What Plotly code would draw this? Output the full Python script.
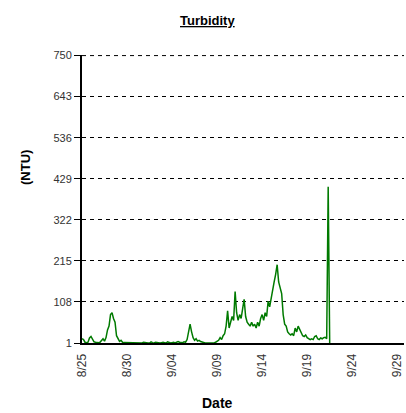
import pandas as pd
import plotly.graph_objects as go

# 4-hourly readings starting 8/25 00:00
start_time = "2009-08-25 00:00"
step = "4h"

turbidity = [
    # 8/25
    12, 10, 3, 2, 3, 14,
    # 8/26
    18, 10, 4, 3, 2, 2,
    # 8/27
    3, 8, 12, 6, 15, 35,
    # 8/28
    45, 75, 80, 65, 55, 20,
    # 8/29
    10, 5, 8, 3, 2, 2,
    # 8/30
    2, 1, 1, 2, 1, 1,
    # 8/31
    1, 1, 2, 1, 1, 3,
    # 9/01
    2, 1, 1, 1, 4, 2,
    # 9/02
    1, 3, 2, 1, 1, 2,
    # 9/03
    3, 2, 1, 4, 2, 1,
    # 9/04
    2, 3, 1, 2, 5, 3,
    # 9/05
    3, 2, 4, 3, 10, 30,
    # 9/06
    50, 30, 15, 8, 12, 6,
    # 9/07
    8, 5, 3, 1, 1, 1,
    # 9/08
    1, 1, 1, 2, 1, 3,
    # 9/09
    5, 8, 15, 10, 20, 25,
    # 9/10
    45, 85, 40, 55, 70, 60,
    # 9/11
    135, 80, 60, 75, 65, 90,
    # 9/12
    115, 70, 55, 50, 45, 55,
    # 9/13
    45, 50, 40, 55, 45, 65,
    # 9/14
    75, 60, 80, 70, 110, 95,
    # 9/15
    120, 140, 160, 180, 205, 160,
    # 9/16
    145, 130, 75, 50, 45, 30,
    # 9/17
    25, 22, 25, 20, 40, 30,
    # 9/18
    45, 35, 30, 20, 18, 22,
    # 9/19
    15, 12, 10, 12, 10, 18,
    # 9/20
    20, 12, 10, 14, 12, 15,
    # 9/21
    16, 12, 408, 1,
]
times = pd.date_range(start_time, periods=len(turbidity), freq=step)

y_ticks = [1, 108, 215, 322, 429, 536, 643, 750]
x_tick_dates = ["2009-08-25", "2009-08-30", "2009-09-04", "2009-09-09",
                "2009-09-14", "2009-09-19", "2009-09-24", "2009-09-29"]
x_tick_labels = ["8/25", "8/30", "9/04", "9/09", "9/14", "9/19", "9/24", "9/29"]

W, H = 406, 413
pl, pr, pt, pb = 82, 2, 55, 70
pw, ph = W - pl - pr, H - pt - pb
def px(x):
    return (x - pl) / pw
def py(y):
    return (H - pb - y) / ph

fig = go.Figure()
fig.add_trace(go.Scatter(x=times, y=turbidity, mode="lines",
                         line=dict(color="#007a00", width=1.5),
                         showlegend=False, cliponaxis=False))

fig.update_layout(
    width=W, height=H,
    margin=dict(l=pl, r=pr, t=pt, b=pb, autoexpand=False),
    paper_bgcolor="white", plot_bgcolor="white",
    font=dict(family="Liberation Sans, Arial, sans-serif", color="#222"),
    xaxis=dict(
        range=["2009-08-25", "2009-09-29 18:00"],
        tickmode="array", tickvals=x_tick_dates, ticktext=x_tick_labels,
        tickangle=-90, tickfont=dict(size=12, color="#333"),
        showgrid=False, zeroline=False, automargin=False,
        showline=True, linecolor="black", linewidth=2,
        ticks="", ticklabelstandoff=4, ticklabeloverflow="allow",
    ),
    yaxis=dict(
        range=[1, 751.5],
        tickmode="array", tickvals=y_ticks,
        tickfont=dict(size=11, color="#333"),
        showgrid=True, gridcolor="black", griddash="4px,4px", gridwidth=1,
        zeroline=False, automargin=False,
        showline=True, linecolor="black", linewidth=2,
        ticks="outside", ticklen=6, tickcolor="black",
        ticklabeloverflow="allow",
    ),
    shapes=[
        dict(type="line", xref="paper", yref="y", x0=0, x1=1,
             y0=y_ticks[-1], y1=y_ticks[-1],
             line=dict(color="black", width=1, dash="4px,4px"), layer="below"),
    ],
    annotations=[
        dict(text="<b><u>Turbidity</u></b>", x=px(207), y=py(21),
             xref="paper", yref="paper", xanchor="center", yanchor="middle",
             showarrow=False, font=dict(size=13, color="black")),
        dict(text="<b>(NTU)</b>", x=px(25), y=py(168),
             xref="paper", yref="paper", xanchor="center", yanchor="middle",
             showarrow=False,
             font=dict(size=13, color="black"), textangle=-90),
        dict(text="<b>Date</b>", x=px(217), y=py(403),
             xref="paper", yref="paper", xanchor="center", yanchor="middle",
             showarrow=False,
             font=dict(size=14, color="black")),
    ],
)

fig.write_html("out.html",
               config={"displayModeBar": False, "staticPlot": True},
               post_script="document.body.style.margin='0';document.body.style.padding='0';")
